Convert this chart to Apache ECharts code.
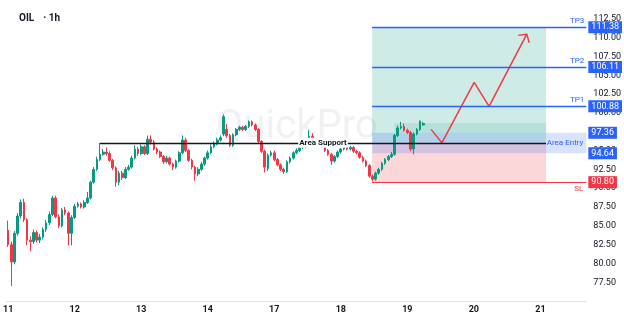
<!DOCTYPE html>
<html>
<head>
<meta charset="utf-8">
<script src="https://cdn.jsdelivr.net/npm/echarts@6/dist/echarts.min.js"></script>
<style>html,body{margin:0;padding:0;background:#fff}#c{width:624px;height:316px}</style>
</head>
<body>
<div id="c"></div>
<script>
// ---- data ----
const dayLabels = ['11','12','13','14','17','18','19','20','21'];
const barsPerDay = 21;
const slotCount = 183;
const openP  = [84.4,82.5,80.2,84.0,86.3,88.1,85.8,83.1,82.9,84.1,83.1,83.5,84.5,85.4,86.5,88.7,86.2,85.0,87.1,86.7,84.0,86.1,87.6,87.9,87.5,88.1,88.7,90.8,92.5,93.8,94.5,94.8,94.6,93.7,92.7,90.8,92.0,91.4,92.5,92.8,94.0,95.2,94.6,95.5,94.6,96.5,96.1,95.2,94.8,94.2,93.5,94.0,93.2,92.8,93.6,94.7,96.4,95.0,93.7,92.8,91.9,92.5,93.2,94.0,94.7,95.5,95.9,96.4,97.2,97.8,97.0,95.7,97.1,97.8,98.1,97.8,98.2,98.8,98.4,97.8,96.2,94.9,92.6,94.4,94.7,93.8,93.1,92.5,92.2,93.5,94.0,94.7,95.0,95.4,95.5,95.9,96.9,96.4,95.8,96.1,95.6,95.0,94.5,93.6,94.2,94.8,95.2,95.5,95.2,95.4,94.9,94.7,94.1,93.6,93.0,91.6,91.2,92.0,92.5,93.3,93.8,94.2,94.5,97.0,98.0,98.2,97.7,97.4,95.2,97.2,97.8,98.4];
const closeP = [82.5,80.2,84.0,86.3,88.1,85.8,83.1,82.9,84.1,83.1,83.5,84.5,85.4,86.5,88.7,86.2,85.0,87.1,86.7,84.0,86.1,87.6,87.9,87.5,88.1,88.7,90.8,92.5,93.8,94.5,94.8,94.6,93.7,92.7,90.8,92.0,91.4,92.5,92.8,94.0,95.2,94.6,95.5,94.6,96.5,96.1,95.2,94.8,94.2,93.5,94.0,93.2,92.8,93.6,94.7,96.4,95.0,93.7,92.8,91.9,92.5,93.2,94.0,94.7,95.5,95.9,96.4,96.7,99.5,97.0,95.7,97.1,97.8,98.1,97.8,98.2,98.8,98.4,97.8,96.2,94.9,92.8,94.4,94.7,93.8,93.1,92.5,92.2,93.5,94.0,94.7,95.0,95.4,95.5,95.9,96.9,96.4,95.8,96.1,95.6,95.0,94.5,93.6,94.2,94.8,95.2,95.5,95.2,95.4,94.9,94.7,94.1,93.6,93.0,91.6,91.2,92.0,92.5,93.3,93.8,94.2,94.5,97.0,98.0,98.2,97.7,97.4,95.2,97.2,97.8,98.9,98.6];
const lowP   = [82.2,77.0,79.9,83.7,86.0,85.5,82.4,81.6,82.6,82.8,82.7,83.2,84.2,85.1,86.3,86.0,84.7,84.8,86.4,82.4,82.4,85.9,87.4,87.3,87.3,87.9,88.5,90.6,92.3,93.6,94.3,94.3,93.5,92.4,90.2,90.4,91.1,91.2,92.3,92.6,93.8,94.3,94.4,94.4,94.4,95.8,95.0,94.5,94.0,93.2,93.3,93.0,92.4,92.6,93.4,94.5,94.8,93.5,92.5,91.0,91.6,92.3,93.0,93.8,94.5,95.3,95.7,96.2,96.9,96.7,95.5,95.5,96.9,97.6,97.6,97.6,98.0,98.2,97.6,96.0,94.7,92.1,92.3,94.2,93.6,92.9,92.3,91.9,92.0,93.3,93.8,94.5,94.8,95.2,95.3,95.7,96.2,95.6,95.6,95.4,94.8,94.3,93.1,93.4,94.0,94.6,95.0,95.0,95.0,94.7,94.5,93.9,93.4,92.8,91.4,90.9,91.0,91.8,92.3,93.1,93.6,94.0,94.3,96.8,97.8,97.5,97.2,94.9,94.5,97.0,97.6,98.3];
const highP  = [85.7,82.9,84.3,86.7,88.5,88.6,86.0,83.6,84.5,84.4,83.9,84.8,85.8,86.9,89.0,89.0,86.5,87.4,87.5,86.9,86.4,87.9,88.2,88.1,88.4,89.5,91.0,92.8,94.2,96.0,95.2,95.4,94.9,93.9,92.9,92.3,92.3,92.8,93.1,94.3,95.7,95.5,95.8,95.7,97.0,97.0,96.4,95.4,95.0,94.4,94.3,94.2,93.4,93.8,94.9,97.0,96.7,95.2,93.9,93.0,92.8,93.5,94.2,95.0,95.8,96.2,96.7,97.0,99.8,98.5,97.2,97.3,98.0,98.3,98.3,98.4,99.0,99.0,98.6,98.0,96.4,95.1,94.6,95.0,95.0,94.0,93.3,92.7,93.7,94.2,94.9,95.3,95.6,95.8,96.1,97.7,97.3,96.6,96.3,96.3,95.8,95.2,94.7,94.4,95.0,95.4,95.8,95.7,95.6,95.6,95.1,94.9,94.3,93.8,93.2,91.8,92.2,92.7,93.5,94.0,94.4,94.8,97.2,98.3,98.8,98.6,97.9,97.6,97.4,98.0,99.0,98.8];
const tpLevels = [100.88, 106.11, 111.38];
const tpNames = ['TP1','TP2','TP3'];
const stopLoss = 90.80;
const entryZone = [94.64, 97.36];
const recentBand = [97.36, 98.65];
const supportLevel = 96.03;
const supportSpan = [28.97, 169.8];
const zoneSpan = [114.9, 169.8];
const recentSpan = [122.0, 169.8];
const arrowPath = [[133.5,97.81],[136.9,96.03],[147.1,104.06],[151.8,100.87],[163.7,110.46]];
const arrowHead = [[161.0,110.30],[163.7,110.46],[164.5,109.32]];

// ---- build ----
const cats = Array.from({length: slotCount}, (_, i) => i);
const candles = openP.map((o, i) => [o, closeP[i], lowP[i], highP[i]]);
const xEnd = slotCount - 0.5;
const blue = '#2962ff', red = '#f23645';
const hidden = {color:'rgba(0,0,0,0)', width:0, type:'solid'};
const boxLabel = (txt, bg) => ({show:true, position:'end', formatter:txt, color:'#fff', backgroundColor:bg,
  fontSize:9, padding:[2,3,1,3], distance:2});

const levelLines = [];
tpLevels.forEach((p, k) => {
  levelLines.push([
    {coord:[zoneSpan[0], p], lineStyle:{color:blue, width:1.4, type:'solid'},
     label:{show:true, position:'insideEndTop', formatter:tpNames[k], color:blue, fontSize:8, distance:2}},
    {coord:[xEnd, p]}
  ]);
  levelLines.push([{coord:[zoneSpan[0], p], lineStyle:hidden, label:boxLabel(p.toFixed(2), blue)}, {coord:[xEnd, p]}]);
});
levelLines.push([
  {coord:[zoneSpan[0], stopLoss], lineStyle:{color:red, width:1, type:'solid'},
   label:{show:true, position:'insideEndBottom', formatter:'SL', color:red, fontSize:8, distance:3}},
  {coord:[xEnd, stopLoss]}
]);
levelLines.push([{coord:[zoneSpan[0], stopLoss], lineStyle:hidden, label:boxLabel(stopLoss.toFixed(2), red)}, {coord:[xEnd, stopLoss]}]);
entryZone.forEach(p => {
  levelLines.push([{coord:[zoneSpan[0], p], lineStyle:hidden, label:boxLabel(p.toFixed(2), blue)}, {coord:[xEnd, p]}]);
});
levelLines.push([
  {coord:[supportSpan[0], supportLevel], lineStyle:{color:'#131722', width:1.3, type:'solid'},
   label:{show:true, position:'middle', formatter:'Area Support', color:'#131722', fontSize:8, fontWeight:'bold',
     backgroundColor:'#fff', padding:[1,1], distance:0, verticalAlign:'middle'}},
  {coord:[supportSpan[1], supportLevel]}
]);

const chart = echarts.init(document.getElementById('c'), null, {renderer:'canvas'});
chart.setOption({
  animation:false,
  backgroundColor:'#fff',
  textStyle:{fontFamily:'Roboto, sans-serif'},
  title:{
    text:'{b|OIL}  {n|· 1h}', left:14, top:4,
    textStyle:{rich:{b:{fontSize:10, fontWeight:'bold', color:'#131722'}, n:{fontSize:10, color:'#131722'}}}
  },
  graphic:[{type:'text', left:216, top:108, z:0, silent:true,
    style:{text:'QuickPro', fontSize:40, fontFamily:'Roboto, sans-serif', fill:'rgba(120,123,134,0.11)'}}],
  grid:{left:0, right:34, top:-12.9, bottom:14.9},
  xAxis:[
    {type:'category', data:cats, boundaryGap:true,
     axisLine:{lineStyle:{color:'#e0e3eb'}}, axisTick:{show:false}, splitLine:{show:false},
     axisLabel:{interval:0, color:'#131722', fontSize:9, fontWeight:'bold', margin:4,
       formatter:(v, i) => (i % barsPerDay === 0 && dayLabels[i / barsPerDay]) ? dayLabels[i / barsPerDay] : ''}},
    {type:'value', min:-0.5, max:xEnd, show:false}
  ],
  yAxis:{type:'value', position:'right', min:75, max:115, interval:2.5, scale:false,
    axisLine:{show:false}, axisTick:{show:false}, splitLine:{show:false},
    axisLabel:{color:'#131722', fontSize:9, margin:7, showMinLabel:false, showMaxLabel:false,
      formatter:v => v.toFixed(2)}},
  series:[
    {type:'line', xAxisIndex:1, data:[], silent:true, z:1, symbol:'none',
     markArea:{silent:true, data:[
       [{coord:[zoneSpan[0], supportLevel], itemStyle:{color:'rgba(8,153,129,0.2)'}}, {coord:[zoneSpan[1], tpLevels[2]]}],
       [{coord:[zoneSpan[0], stopLoss], itemStyle:{color:'rgba(242,54,69,0.2)'}}, {coord:[zoneSpan[1], supportLevel]}],
       [{coord:[recentSpan[0], recentBand[0]], itemStyle:{color:'rgba(8,153,129,0.12)'}}, {coord:[recentSpan[1], recentBand[1]]}],
       [{coord:[zoneSpan[0], entryZone[0]], itemStyle:{color:'rgba(41,98,255,0.18)'},
         label:{show:true, position:'insideRight', formatter:'Area Entry', color:blue, fontSize:8, distance:3}},
        {coord:[xEnd, entryZone[1]]}]
     ]}},
    {type:'candlestick', xAxisIndex:0, data:candles, z:2, barWidth:'68%',
     itemStyle:{color:'#089981', color0:red, borderColor:'#089981', borderColor0:red, borderWidth:1}},
    {type:'line', xAxisIndex:1, data:arrowPath, z:4, symbol:'none', silent:true,
     lineStyle:{color:'#ef3b47', width:1.5},
     markLine:{silent:true, symbol:['none','none'], animation:false, data:levelLines}},
    {type:'line', xAxisIndex:1, data:arrowHead, z:4, symbol:'none', silent:true,
     lineStyle:{color:'#ef3b47', width:1.5}}
  ]
});
</script>
</body>
</html>
